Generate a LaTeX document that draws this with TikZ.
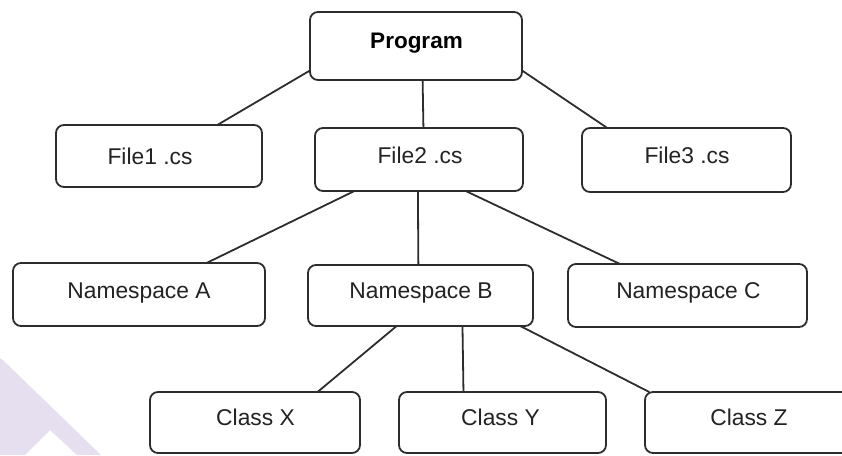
\documentclass[tikz,border=0pt]{standalone}
\usepackage{fontspec}
\setmainfont{Liberation Sans}
\definecolor{edge}{RGB}{45,45,45}
\definecolor{ink}{RGB}{35,35,35}
\definecolor{lavendertint}{RGB}{229,223,240}
\tikzset{
  box/.style={draw=edge, line width=1.8pt, rounded corners=8pt, fill=white,
              inner sep=0pt, outer sep=0pt},
  lbl/.style={inner sep=0pt, text=ink, text height=16pt, text depth=0pt,
              font=\fontsize{22.8}{22.8}\selectfont},
  link/.style={draw=edge, line width=1.8pt},
}
\begin{document}
\begin{tikzpicture}[x=1pt,y=-1pt]
\useasboundingbox (0,0) rectangle (842,455);
\clip (0,0) rectangle (842,455);

% faint letter shape in the lower left corner
\fill[lavendertint] (0,358) .. controls (3,360) .. (7,364) -- (101,455) -- (77,455)
  -- (50,430) -- (25,455) -- (0,455) -- cycle;

% boxes
\node[box, minimum width=212pt, minimum height=68pt] (prog)  at (416,46)    {};
\node[box, minimum width=206pt, minimum height=62pt] (file1) at (159,156)   {};
\node[box, minimum width=208pt, minimum height=63pt] (file2) at (419,159.5) {};
\node[box, minimum width=209pt, minimum height=64pt] (file3) at (686.5,160) {};
\node[box, minimum width=252pt, minimum height=63pt] (nsa)   at (139,294.5) {};
\node[box, minimum width=225pt, minimum height=61pt] (nsb)   at (420.5,295.5) {};
\node[box, minimum width=239pt, minimum height=63pt] (nsc)   at (687.5,295.5) {};
\node[box, minimum width=210pt, minimum height=61pt] (clx)   at (255,422.5) {};
\node[box, minimum width=207pt, minimum height=61pt] (cly)   at (502.5,422.5) {};
\node[box, minimum width=208pt, minimum height=61pt] (clz)   at (749,422.5) {};

% captions
\node[lbl, text=black, text height=16.5pt, font=\fontsize{22.5}{22.5}\selectfont\bfseries]
           (tprog)  at (416.5,40) {Program};
\node[lbl] (tfile1) at (150,156)   {File1 .cs};
\node[lbl] (tfile2) at (420,155)   {File2 .cs};
\node[lbl] (tfile3) at (687,155)   {File3 .cs};
\node[lbl] (tnsa)   at (139,290.5) {Namespace A};
\node[lbl] (tnsb)   at (421,290)   {Namespace B};
\node[lbl] (tnsc)   at (688.5,290) {Namespace C};
\node[lbl] (tclx)   at (255.5,417.5) {Class X};
\node[lbl] (tcly)   at (500.5,417.5) {Class Y};
\node[lbl] (tclz)   at (749,417.5) {Class Z};

% tree links
\draw[link] (prog.193.8) -- (file1.28.1);
\draw[link] (prog.281.6) -- (file2.82.8);
\draw[link] (prog.347.2) -- (file3.158.1);
\draw[link] (file2.206.2) -- (nsa.25.5);
\draw[link] (file2.268.2) -- (nsb.94.7);
\draw[link] (file2.326.7) -- (nsc.155.6);
\draw[link] (nsb.232.4) -- (clx.26.9);
\draw[link] (nsb.324.3) -- (cly.142.3);
\draw[link] (nsb.343.4) -- (clz.163.7);
\end{tikzpicture}
\end{document}
